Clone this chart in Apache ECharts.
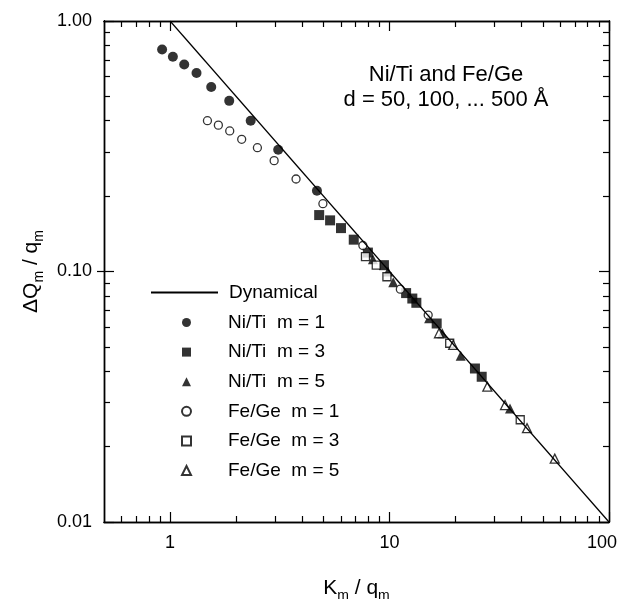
<!DOCTYPE html>
<html>
<head>
<meta charset="utf-8">
<script src="https://cdn.jsdelivr.net/npm/echarts@6.0.0/dist/echarts.min.js"></script>
<style>
  html, body { margin: 0; padding: 0; background: #fff; }
  #chart { width: 618px; height: 599px; }
</style>
</head>
<body>
<div id="chart"></div>
<script>
// values: [K_m / q_m, dQ_m / q_m]
let dynamical = [[1, 1], [100, 0.01]];
let niTi1 = [[0.92, 0.77], [1.03, 0.72], [1.16, 0.67], [1.32, 0.62], [1.54, 0.545], [1.86, 0.48], [2.33, 0.4], [3.11, 0.306], [4.67, 0.21]];
let niTi3 = [[4.78, 0.168], [5.36, 0.16], [6.01, 0.149], [6.87, 0.134], [7.97, 0.119], [9.43, 0.106], [11.9, 0.082], [12.7, 0.078], [13.25, 0.075], [16.4, 0.062], [24.5, 0.041], [26.3, 0.038]];
let niTi5 = [[8.4, 0.112], [9.84, 0.1], [10.4, 0.0905], [15.15, 0.065], [17.4, 0.0567], [21.1, 0.0461], [35.4, 0.0284]];
let feGe1 = [[1.48, 0.4], [1.66, 0.384], [1.87, 0.364], [2.12, 0.337], [2.5, 0.312], [2.98, 0.277], [3.75, 0.234], [4.97, 0.1865], [7.56, 0.127], [11.2, 0.085], [15.0, 0.067]];
let feGe3 = [[7.77, 0.1146], [8.7, 0.106], [9.73, 0.0953], [18.8, 0.0517], [39.4, 0.0256]];
let feGe5 = [[16.8, 0.0567], [19.5, 0.0509], [27.9, 0.0347], [33.6, 0.0293], [42.3, 0.0237], [56.6, 0.0179]];

let names = ["Dynamical", "Ni/Ti  m = 1", "Ni/Ti  m = 3", "Ni/Ti  m = 5", "Fe/Ge  m = 1", "Fe/Ge  m = 3", "Fe/Ge  m = 5"];

// tick positions
let xMajor = [1, 10, 100];
let xMinor = [0.6, 0.7, 0.8, 0.9, 2, 3, 4, 5, 6, 7, 8, 9, 20, 30, 40, 50, 60, 70, 80, 90];
let yMajor = [0.01, 0.1, 1];
let yMinor = [0.02, 0.03, 0.04, 0.05, 0.06, 0.07, 0.08, 0.09, 0.2, 0.3, 0.4, 0.5, 0.6, 0.7, 0.8, 0.9];

let font = "Liberation Sans";
let titleRich = {
  a: { fontFamily: font, fontSize: 21, color: "#000", lineHeight: 30 },
  s: { fontFamily: font, fontSize: 14, color: "#000", lineHeight: 30, verticalAlign: "bottom" },
};

let myChart = echarts.init(document.getElementById("chart"));

function makeAxis(kind, position, ticks, len, inside, withLabels) {
  let isX = kind === "x";
  return {
    type: "log",
    logBase: 10,
    min: isX ? 0.5 : 0.01,
    max: isX ? 100 : 1,
    position: position,
    axisLine: { show: true, lineStyle: { color: "#000", width: 1.3 } },
    axisTick: { show: true, inside: inside, length: len, customValues: ticks, lineStyle: { color: "#000", width: 1.2 } },
    axisLabel: {
      show: withLabels,
      customValues: isX ? xMajor : yMajor,
      margin: 12,
      color: "#000",
      fontFamily: font,
      fontSize: 18,
      // last label sits left of the corner, like the original
      formatter: (v) => (isX ? (Math.round(v) === 100 ? "{r|100}" : String(Math.round(v))) : v.toFixed(2)),
      rich: { r: { fontFamily: font, fontSize: 18, color: "#000", padding: [0, 14, 0, 0] } },
    },
    minorTick: { show: false },
    splitLine: { show: false },
  };
}

let xBottom = makeAxis("x", "bottom", xMajor, 10, true, true);
xBottom.name = "{a|K}{s|m}{a| / q}{s|m}";
xBottom.nameLocation = "middle";
xBottom.nameGap = 51;
xBottom.nameTextStyle = { rich: titleRich };

let yLeft = makeAxis("y", "left", yMajor, 10, true, true);
yLeft.name = "{a|ΔQ}{s|m}{a| / q}{s|m}";
yLeft.nameLocation = "middle";
yLeft.nameRotate = 90;
yLeft.nameGap = 58;
yLeft.nameTextStyle = { rich: titleRich };

let yOut = makeAxis("y", "left", [0.1], 7, false, false);

function scatter(name, data, symbol, size, filled) {
  return {
    name: name,
    type: "scatter",
    data: data,
    symbol: symbol,
    symbolSize: size,
    itemStyle: filled
      ? { color: "#000" }
      : { color: "#fff", borderColor: "#000", borderWidth: 1.3 },
  };
}

let legendText = { fontFamily: font, fontSize: 19, color: "#000", lineHeight: 18 };

myChart.setOption({
  animation: false,
  backgroundColor: "#fff",
  grid: { left: 104, right: 9, top: 21, bottom: 77, outerBoundsMode: "none", containLabel: false },
  xAxis: [
    xBottom,
    makeAxis("x", "bottom", xMinor, 6, true, false),
    makeAxis("x", "top", xMajor, 10, true, false),
    makeAxis("x", "top", xMinor, 6, true, false),
  ],
  yAxis: [
    yLeft,
    makeAxis("y", "left", yMinor, 6, true, false),
    makeAxis("y", "right", yMajor, 10, true, false),
    makeAxis("y", "right", yMinor, 6, true, false),
    yOut,
  ],
  legend: [
    {
      // the line entry with its long sample
      orient: "vertical",
      left: 145,
      top: 278,
      itemWidth: 67,
      itemHeight: 9,
      selectedMode: false,
      data: [names[0]],
      textStyle: Object.assign({ padding: [0, 0, 0, 6] }, legendText),
    },
    {
      // the marker entries, small square icon box so shapes keep their aspect
      orient: "vertical",
      left: 176,
      top: 308,
      itemWidth: 9,
      itemHeight: 9,
      itemGap: 10.6,
      selectedMode: false,
      data: names.slice(1),
      textStyle: Object.assign({ padding: [0, 0, 0, 32] }, legendText),
    },
  ],
  graphic: [
    {
      type: "text",
      x: 446,
      y: 62,
      style: {
        text: "Ni/Ti and Fe/Ge\nd = 50, 100, ... 500 Å",
        fill: "#000",
        font: '22px "Liberation Sans"',
        align: "center",
        verticalAlign: "top",
        lineHeight: 25,
      },
    },
  ],
  series: [
    {
      name: names[0],
      type: "line",
      data: dynamical,
      symbol: "none",
      showSymbol: false,
      lineStyle: { color: "#000", width: 1.2 },
      // hides the dot on the legend line
      itemStyle: { color: "#000", opacity: 0 },
    },
    scatter(names[1], niTi1, "circle", 10, true),
    scatter(names[2], niTi3, "rect", 10, true),
    scatter(names[3], niTi5, "triangle", 10, true),
    scatter(names[4], feGe1, "circle", 8, false),
    scatter(names[5], feGe3, "rect", 8, false),
    scatter(names[6], feGe5, "triangle", 9, false),
  ],
});
</script>
</body>
</html>
